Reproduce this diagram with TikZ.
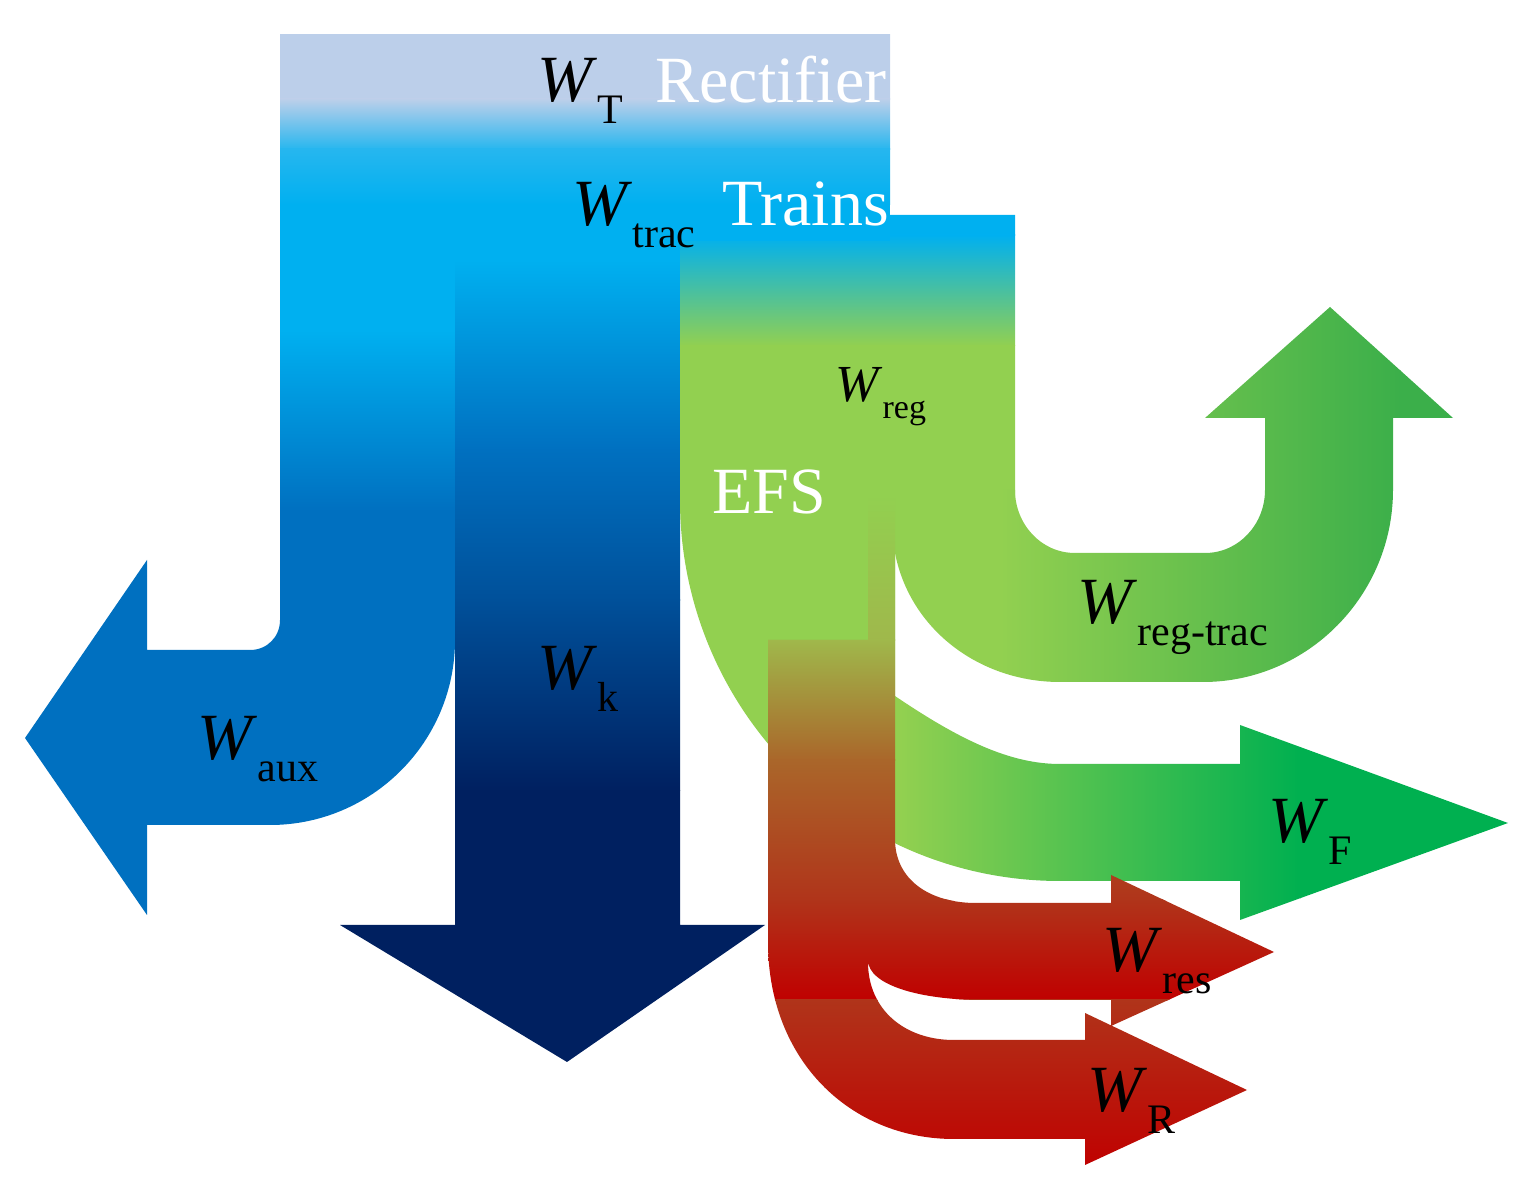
\documentclass[tikz,border=0pt]{standalone}
\usepackage{fontspec}
\setmainfont{Liberation Serif}
\begin{document}
\newcommand\WW[2][21]{\textit{W}\raisebox{-0.32em}{\fontsize{#1}{#1}\selectfont #2}}
\begin{tikzpicture}[x=0.5pt,y=-0.5pt,
  lbl/.style={anchor=base west,inner sep=0pt,font=\fontsize{33}{33}\selectfont},
  wl/.style={lbl,text=white}]
\useasboundingbox (0,0) rectangle (1528,1202);
\definecolor{lb}{HTML}{BCCFEA}\definecolor{cy}{HTML}{00B0F0}
\definecolor{mb}{HTML}{0070C0}\definecolor{nv}{HTML}{002060}
\definecolor{lg}{HTML}{92D050}\definecolor{dg}{HTML}{00B050}
\definecolor{rg}{HTML}{3BAF4A}\definecolor{rd}{HTML}{C00000}
% top block
\begin{scope}
\clip (280,35) rectangle (890,241);
\shade[top color=lb,bottom color=lb] (280,34) rectangle (890,100);
\shade[top color=lb,bottom color=cy!80!lb] (280,99) rectangle (890,150);
\shade[top color=cy!80!lb,bottom color=cy] (280,149) rectangle (890,205);
\fill[cy] (280,204) rectangle (890,242);
\end{scope}
% aux
\begin{scope}
\clip (280,240)--(455,240)--(455,640) .. controls (455,742) and (372,825) .. (270,825)
 --(147,825)--(147,915)--(25,738)--(147,560)--(147,650)--(250,650)
 .. controls (267,650) and (280,637) .. (280,620)--cycle;
\fill[cy] (0,239) rectangle (460,331);
\shade[top color=cy,bottom color=mb] (0,330) rectangle (460,511);
\fill[mb] (0,510) rectangle (460,920);
\end{scope}
% W_k
\begin{scope}
\clip (455,240)--(680,240)--(680,925)--(765,925)--(567,1062)--(340,925)--(455,925)--cycle;
\fill[cy] (330,239) rectangle (770,261);
\shade[top color=cy,bottom color=mb] (330,260) rectangle (770,451);
\shade[top color=mb,bottom color=mb!60!nv] (330,450) rectangle (770,601);
\shade[top color=mb!60!nv,bottom color=nv] (330,600) rectangle (770,791);
\fill[nv] (330,790) rectangle (770,1070);
\end{scope}
% W_F
\begin{scope}
\clip (895,696) .. controls (960,740) and (1010,764) .. (1060,764)--(1240,764)--(1240,725)
 --(1508,823)--(1240,920)--(1240,881)--(1060,881)
 .. controls (850,881) and (680,710) .. (680,500)--(680,480)--(895,480)--cycle;
\fill[lg] (670,470) rectangle (901,930);
\shade[left color=lg,right color=dg] (900,470) rectangle (1301,930);
\fill[dg] (1300,470) rectangle (1520,930);
\end{scope}
% main green
\begin{scope}
\clip (680,241)--(890,241)--(890,215)--(1015,215)--(1015,495)--(680,495)--cycle;
\fill[cy] (670,210) rectangle (1020,236);
\shade[top color=cy,bottom color=lg] (670,235) rectangle (1020,346);
\fill[lg] (670,345) rectangle (1020,500);
\end{scope}
% reg-trac
\begin{scope}
\clip (1015,490) .. controls (1015,524) and (1041,553) .. (1075,553)--(1205,553)
 .. controls (1239,553) and (1265,524) .. (1265,490)--(1265,418)--(1205,418)--(1330,307)
 --(1453,418)--(1393,418)--(1393,490) .. controls (1393,595) and (1308,682) .. (1203,682)
 --(1060,682) .. controls (980,682) and (910,630) .. (895,553)--(895,489)--cycle;
\fill[lg] (890,300) rectangle (1001,690);
\shade[left color=lg,right color=rg] (1000,300) rectangle (1401,690);
\fill[rg] (1400,300) rectangle (1460,690);
\end{scope}
% red flows
\begin{scope}
\clip (868,498)--(895,498)--(895,839) .. controls (895,880) and (930,903) .. (976,903)
 --(1111,903)--(1111,875)--(1274,952)--(1111,1026)--(1111,1000)--(983,1000)
 .. controls (920,1000) and (868,985) .. (868,960)--cycle
 (768,640)--(868,640)--(868,962) .. controls (868,1010) and (905,1040) .. (954,1040)
 --(1085,1040)--(1085,1013)--(1247,1090)--(1085,1165)--(1085,1139)--(954,1139)
 .. controls (850,1139) and (768,1060) .. (768,942)--cycle;
\shade[top color=lg,bottom color=lg!70!brown] (760,495) rectangle (900,641);
\shade[top color=lg!70!brown,bottom color={rgb,255:red,170;green,102;blue,42}] (760,640) rectangle (900,761);
\shade[top color={rgb,255:red,170;green,102;blue,42},bottom color={rgb,255:red,176;green,52;blue,26}] (760,760) rectangle (1300,901);
\shade[top color={rgb,255:red,176;green,52;blue,26},bottom color=rd] (760,900) rectangle (1300,1001);
\shade[top color={rgb,255:red,176;green,52;blue,26},bottom color=rd] (760,1000) rectangle (1300,1170);
\end{scope}
% labels
\node[lbl] (wt) at (537,102) {\WW{T}};
\node[wl] (rect) at (655,103) {Rectifier};
\node[lbl] (wtr) at (572,226) {\WW{trac}};
\node[wl] (trn) at (722,226) {Trains};
\node[lbl,font=\fontsize{26}{26}\selectfont] (wreg) at (835,402) {\WW[17]{reg}};
\node[wl] (efs) at (712,514) {EFS};
\node[lbl] (wrt) at (1077,624) {\WW{reg-trac}};
\node[lbl] (waux) at (197,760) {\WW{aux}};
\node[lbl] (wk) at (537,690) {\WW{k}};
\node[lbl] (wf) at (1268,843) {\WW{F}};
\node[lbl] (wres) at (1102,972) {\WW{res}};
\node[lbl] (wr) at (1087,1112) {\WW{R}};
\end{tikzpicture}
\end{document}
